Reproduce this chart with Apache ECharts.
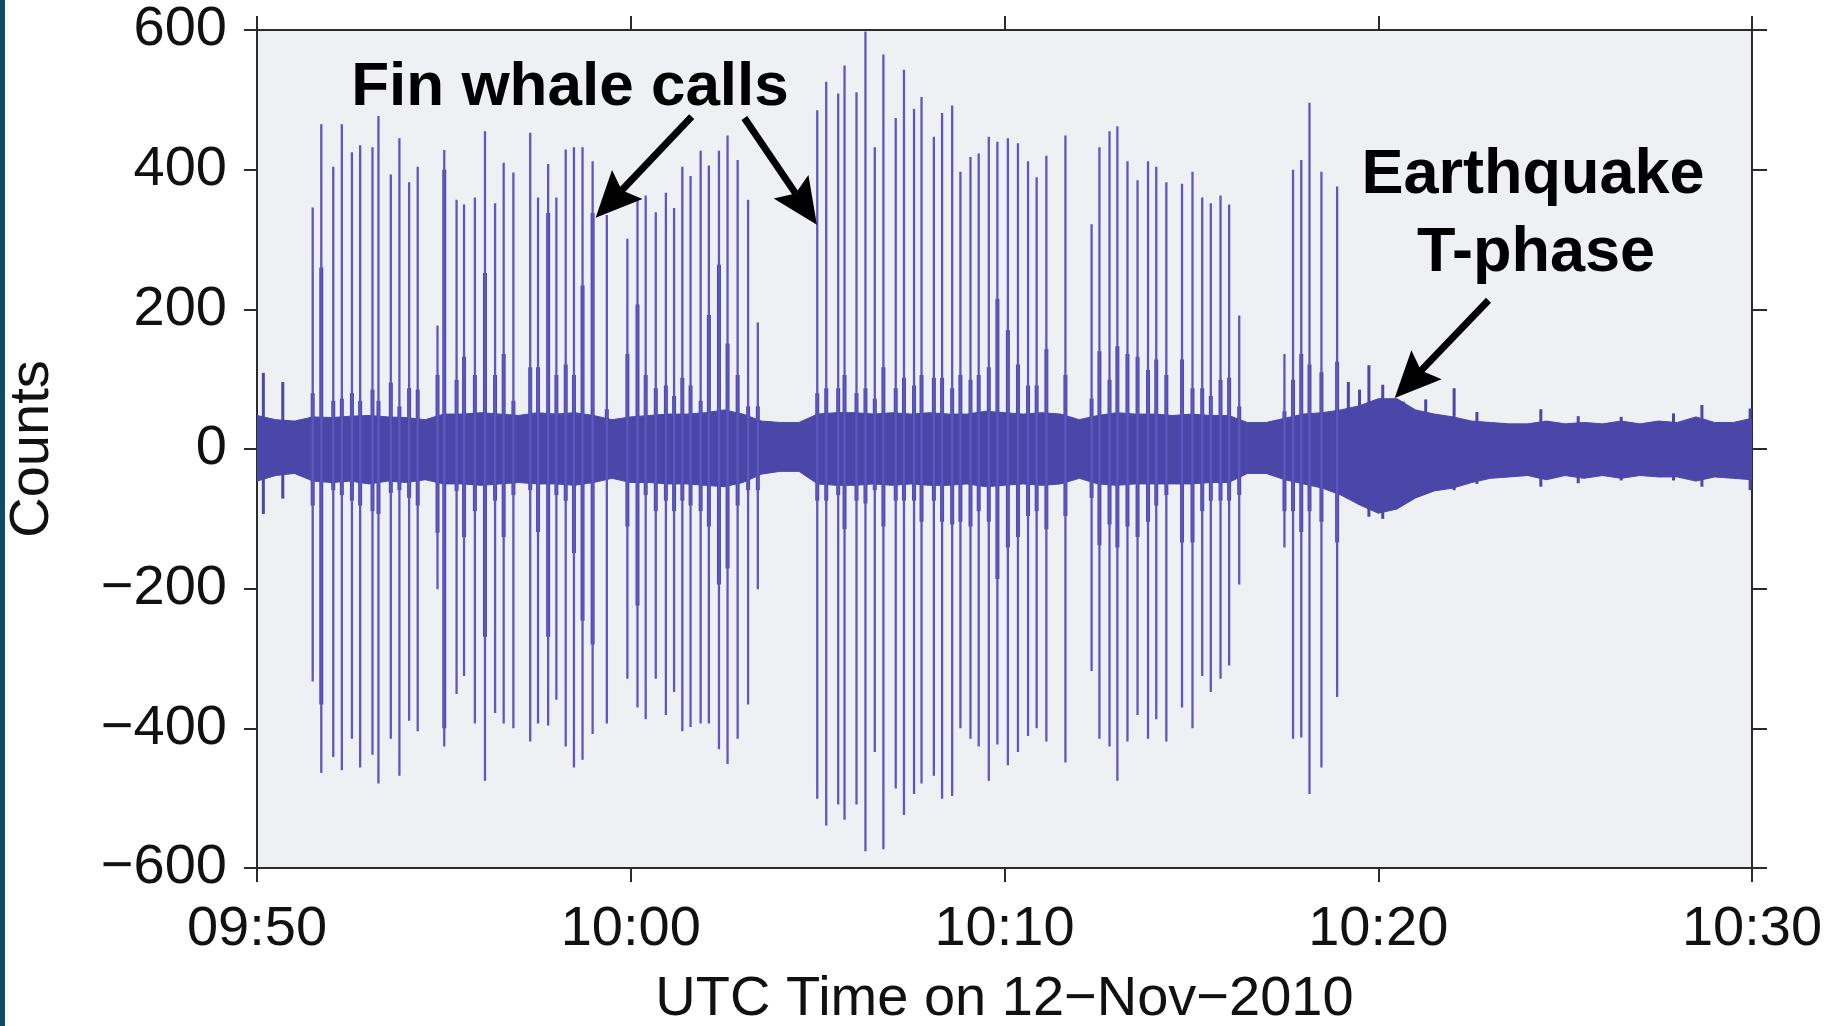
<!DOCTYPE html>
<html>
<head>
<meta charset="utf-8">
<script src="https://cdn.jsdelivr.net/npm/echarts@6/dist/echarts.min.js"></script>
<style>
html,body{margin:0;padding:0;background:#ffffff;}
#chart{width:1839px;height:1026px;}
</style>
</head>
<body>
<div id="chart"></div>
<script>
// ---------- data (minutes after 09:50 UTC, counts) ----------
const xTickLabels = ['09:50', '10:00', '10:10', '10:20', '10:30'];
const yTickLabels = ['\u2212600', '\u2212400', '\u2212200', '0', '200', '400', '600'];

// fin whale call pulses: time, peak up, peak down, coda up, coda down
const callTime = [
  1.49, 1.72, 2.04, 2.27, 2.54, 2.76, 3.09, 3.25, 3.58, 3.81, 4.07, 4.30, 4.83, 5.01, 5.34, 5.54, 5.83, 6.10, 6.37, 6.60, 6.86, 7.31, 7.52, 7.79, 8.01,
  8.26, 8.48, 8.71, 8.98, 9.36, 9.91, 10.18, 10.40, 10.67, 10.94, 11.16, 11.38, 11.60, 11.87, 12.09, 12.36, 12.59, 12.86, 13.14, 13.40,
  14.99, 15.23, 15.55, 15.72, 16.04, 16.28, 16.53, 16.76, 17.09, 17.31, 17.58, 17.78, 18.11, 18.33, 18.60, 18.82, 19.09, 19.31, 19.58, 19.81, 20.09, 20.36, 20.63, 20.86, 21.12, 21.63,
  22.33, 22.54, 22.81, 23.02, 23.29, 23.56, 23.84, 24.06, 24.33, 24.75, 25.03, 25.29, 25.52, 25.78, 26.01, 26.28,
  27.49, 27.72, 27.94, 28.16, 28.48, 28.90
];
const callTop = [
  346, 465, 404, 465, 425, 435, 432, 477, 393, 445, 382, 404, 177, 428, 357, 350, 360, 455, 352, 410, 396, 453, 360, 408, 360,
  429, 432, 432, 412, 335, 301, 357, 363, 339, 367, 345, 404, 391, 427, 406, 427, 449, 414, 357, 181,
  485, 526, 509, 549, 511, 598, 432, 565, 474, 543, 487, 504, 447, 481, 492, 397, 418, 423, 447, 440, 445, 438, 412, 389, 420, 449,
  322, 432, 455, 462, 412, 385, 412, 404, 382, 380, 397, 360, 352, 363, 350, 191,
  136, 400, 414, 496, 397, 376
];
const callBottom = [
  -333, -464, -441, -460, -415, -456, -438, -479, -415, -468, -389, -404, -201, -426, -351, -325, -393, -475, -378, -393, -400, -419, -393, -396, -359,
  -426, -456, -445, -408, -393, -329, -370, -387, -329, -381, -348, -404, -398, -393, -393, -430, -451, -415, -366, -201,
  -501, -539, -509, -531, -509, -576, -434, -573, -486, -524, -494, -479, -468, -501, -497, -400, -415, -426, -475, -423, -453, -434, -411, -400, -419, -449,
  -318, -415, -426, -475, -419, -381, -415, -387, -419, -370, -400, -325, -348, -329, -310, -194,
  -141, -415, -413, -494, -456, -355
];
const codaTop = [
  80, 260, 69, 72, 80, 69, 85, 69, 95, 61, 87, 85, 106, 400, 99, 132, 106, 252, 106, 136, 69, 117, 117, 338, 106,
  121, 106, 234, 338, 57, 136, 207, 106, 87, 91, 76, 102, 91, 69, 192, 264, 151, 106, 61, 61,
  80, 87, 87, 106, 80, 87, 72, 117, 87, 102, 91, 106, 102, 102, 87, 106, 99, 106, 117, 215, 170, 121, 91, 91, 143, 106,
  72, 140, 99, 147, 136, 132, 113, 128, 106, 128, 87, 87, 76, 99, 102, 61,
  54, 99, 136, 121, 110, 125
];
const codaBottom = [
  -81, -366, -59, -66, -74, -81, -89, -93, -63, -59, -70, -81, -120, -400, -60, -126, -89, -269, -74, -126, -66, -59, -119, -269, -66,
  -74, -149, -246, -280, -36, -111, -224, -66, -89, -74, -89, -74, -81, -89, -111, -194, -171, -81, -59, -59,
  -74, -74, -66, -115, -74, -78, -59, -111, -74, -74, -74, -104, -74, -104, -108, -104, -111, -89, -104, -186, -141, -126, -96, -89, -115, -96,
  -70, -138, -108, -141, -111, -126, -104, -81, -66, -134, -134, -89, -74, -74, -74, -66,
  -89, -89, -119, -89, -104, -134
];

// isolated small noise bursts / T-phase arrivals
const burstTime   = [0.17, 0.69, 29.20, 29.50, 29.75, 30.12, 30.67, 31.27, 32.03, 32.64, 34.35, 35.35, 36.50, 37.90, 38.66, 39.95];
const burstTop    = [109, 96, 96, 85, 120, 92, 68, 71, 87, 53, 57, 47, 46, 51, 63, 58];
const burstBottom = [-93, -71, -70, -80, -97, -100, -80, -60, -59, -50, -54, -49, -45, -45, -54, -59];

// background noise envelope
const envTime = [0, 0.5, 1, 1.5, 2, 2.5, 3, 3.5, 4, 4.5, 5, 5.5, 6, 6.5, 7, 7.5, 8, 8.5, 9, 9.5,
  10, 10.5, 11, 11.5, 12, 12.5, 13, 13.5, 14, 14.5, 15, 15.5, 16, 16.5, 17, 17.5, 18, 18.5, 19, 19.5,
  20, 20.5, 21, 21.5, 22, 22.5, 23, 23.5, 24, 24.5, 25, 25.5, 26, 26.5, 27, 27.5, 28, 28.5, 29, 29.5,
  30, 30.5, 31, 31.5, 32, 32.5, 33, 33.5, 34, 34.5, 35, 35.5, 36, 36.5, 37, 37.5, 38, 38.5, 39, 39.5, 40];
const envUpper = [48, 42, 40, 46, 45, 47, 48, 46, 45, 42, 50, 50, 52, 50, 48, 52, 50, 52, 48, 42,
  46, 48, 50, 50, 52, 56, 50, 40, 38, 38, 50, 52, 52, 50, 52, 50, 52, 50, 50, 54,
  52, 50, 52, 50, 42, 48, 52, 50, 50, 48, 50, 48, 48, 38, 38, 44, 50, 52, 56, 62,
  72, 72, 56, 50, 46, 40, 38, 36, 36, 40, 36, 38, 36, 40, 36, 40, 38, 46, 38, 38, 44];
const envLower = [-46, -38, -35, -46, -48, -46, -50, -46, -48, -44, -50, -50, -52, -50, -48, -50, -50, -52, -48, -42,
  -48, -48, -50, -50, -52, -54, -48, -36, -32, -32, -50, -52, -52, -50, -52, -50, -52, -52, -50, -54,
  -52, -50, -52, -50, -42, -50, -52, -50, -50, -50, -50, -48, -48, -35, -35, -44, -50, -56, -66, -80,
  -92, -86, -70, -60, -56, -48, -42, -40, -38, -44, -38, -42, -38, -42, -38, -40, -40, -46, -40, -42, -44];

// annotation arrows: [tail time, tail counts, head time, head counts]
const arrowTail = [[11.63, 476], [13.04, 474], [32.95, 213]];
const arrowHead = [[9.06, 331], [14.98, 321], [30.44, 73]];

// ---------- chart ----------
const FONT = '"Liberation Sans", Arial, Helvetica, sans-serif';
const NOISE = '#4a47a9';
const SPIKE = '#5f57c0';
const AXIS = '#2b2b2b';

function vLine(color, width) {
  return function (params, api) {
    const p1 = api.coord([api.value(0), api.value(1)]);
    const p2 = api.coord([api.value(0), api.value(2)]);
    return {
      type: 'line',
      shape: { x1: p1[0], y1: p1[1], x2: p2[0], y2: p2[1] },
      style: { stroke: color, lineWidth: width }
    };
  };
}

function arrowItem(params, api) {
  const a = api.coord([api.value(0), api.value(1)]);
  const b = api.coord([api.value(2), api.value(3)]);
  const dx = b[0] - a[0], dy = b[1] - a[1];
  const L = Math.hypot(dx, dy);
  const ux = dx / L, uy = dy / L, nx = -uy, ny = ux;
  const headLen = 46, headW = 21, notch = 8;
  const base = [b[0] - ux * headLen, b[1] - uy * headLen];
  return {
    type: 'group',
    children: [
      { type: 'line', shape: { x1: a[0], y1: a[1], x2: base[0] + ux * notch, y2: base[1] + uy * notch },
        style: { stroke: '#000', lineWidth: 7 } },
      { type: 'polygon', shape: { points: [
          [b[0], b[1]],
          [base[0] + nx * headW, base[1] + ny * headW],
          [base[0] + ux * notch, base[1] + uy * notch],
          [base[0] - nx * headW, base[1] - ny * headW]
        ] }, style: { fill: '#000' } }
    ]
  };
}

const axisLineStyle = { color: AXIS, width: 2 };
const chart = echarts.init(document.getElementById('chart'), null, { renderer: 'canvas' });

chart.setOption({
  animation: false,
  backgroundColor: '#ffffff',
  grid: { left: 257, right: 87, top: 30, bottom: 158, show: true, backgroundColor: '#eff0f4', borderWidth: 0,
          containLabel: false, outerBoundsMode: 'none' },
  xAxis: [
    {
      type: 'value', min: 0, max: 40, interval: 10, position: 'bottom',
      axisLine: { show: true, onZero: false, lineStyle: axisLineStyle },
      axisTick: { show: true, inside: false, length: 14, lineStyle: axisLineStyle },
      splitLine: { show: false },
      axisLabel: { formatter: v => xTickLabels[Math.round(v / 10)], fontSize: 56, fontFamily: FONT, color: '#111', margin: 34 },
      name: 'UTC Time on 12\u2212Nov\u22122010', nameLocation: 'middle', nameGap: 104,
      nameTextStyle: { fontSize: 56, fontFamily: FONT, color: '#111' }
    },
    {
      type: 'value', min: 0, max: 40, interval: 10, position: 'top',
      axisLine: { show: true, onZero: false, lineStyle: axisLineStyle },
      axisTick: { show: true, inside: false, length: 14, lineStyle: axisLineStyle },
      splitLine: { show: false }, axisLabel: { show: false }
    }
  ],
  yAxis: [
    {
      type: 'value', min: -600, max: 600, interval: 200, position: 'left',
      axisLine: { show: true, onZero: false, lineStyle: axisLineStyle },
      axisTick: { show: true, inside: false, length: 13, lineStyle: axisLineStyle },
      splitLine: { show: false },
      axisLabel: { formatter: v => yTickLabels[Math.round((v + 600) / 200)], fontSize: 56, fontFamily: FONT, color: '#111', margin: 30 },
      name: 'Counts', nameLocation: 'middle', nameGap: 196, nameRotate: 90,
      nameTextStyle: { fontSize: 56, fontFamily: FONT, color: '#111' }
    },
    {
      type: 'value', min: -600, max: 600, interval: 200, position: 'right',
      axisLine: { show: true, onZero: false, lineStyle: axisLineStyle },
      axisTick: { show: true, inside: false, length: 15, lineStyle: axisLineStyle },
      splitLine: { show: false }, axisLabel: { show: false }
    }
  ],
  series: [
    {
      name: 'noise upper', type: 'line', xAxisIndex: 0, yAxisIndex: 0,
      data: envTime.map((t, i) => [t, envUpper[i]]),
      symbol: 'none', lineStyle: { color: NOISE, width: 1 },
      areaStyle: { color: NOISE, opacity: 1, origin: 'auto' }, z: 2
    },
    {
      name: 'noise lower', type: 'line', xAxisIndex: 0, yAxisIndex: 0,
      data: envTime.map((t, i) => [t, envLower[i]]),
      symbol: 'none', lineStyle: { color: NOISE, width: 1 },
      areaStyle: { color: NOISE, opacity: 1, origin: 'auto' }, z: 2
    },
    {
      name: 'coda', type: 'custom', xAxisIndex: 0, yAxisIndex: 0,
      renderItem: vLine(NOISE, 4), encode: { x: 0, y: [1, 2] },
      data: callTime.map((t, i) => [t, codaTop[i], codaBottom[i]]), z: 3, clip: true
    },
    {
      name: 'bursts', type: 'custom', xAxisIndex: 0, yAxisIndex: 0,
      renderItem: vLine(NOISE, 3), encode: { x: 0, y: [1, 2] },
      data: burstTime.map((t, i) => [t, burstTop[i], burstBottom[i]]), z: 3, clip: true
    },
    {
      name: 'calls', type: 'custom', xAxisIndex: 0, yAxisIndex: 0,
      renderItem: vLine(SPIKE, 2.3), encode: { x: 0, y: [1, 2] },
      data: callTime.map((t, i) => [t, callTop[i], callBottom[i]]), z: 4, clip: true
    },
    {
      name: 'arrows', type: 'custom', xAxisIndex: 0, yAxisIndex: 0,
      renderItem: arrowItem, encode: { x: [0, 2], y: [1, 3] },
      data: arrowTail.map((p, i) => [p[0], p[1], arrowHead[i][0], arrowHead[i][1]]), z: 10, clip: false
    }
  ],
  graphic: [
    { type: 'rect', left: 0, top: 0, shape: { width: 5, height: 1026 }, style: { fill: '#0d4a68' }, z: 100 },
    { type: 'text', x: 570, y: 88, z: 100,
      style: { text: 'Fin whale calls', font: 'bold 62px ' + FONT, fill: '#000', align: 'center', verticalAlign: 'middle' } },
    { type: 'text', x: 1533, y: 176, z: 100,
      style: { text: 'Earthquake', font: 'bold 63px ' + FONT, fill: '#000', align: 'center', verticalAlign: 'middle' } },
    { type: 'text', x: 1536, y: 254, z: 100,
      style: { text: 'T-phase', font: 'bold 63px ' + FONT, fill: '#000', align: 'center', verticalAlign: 'middle' } }
  ]
});
</script>
</body>
</html>
